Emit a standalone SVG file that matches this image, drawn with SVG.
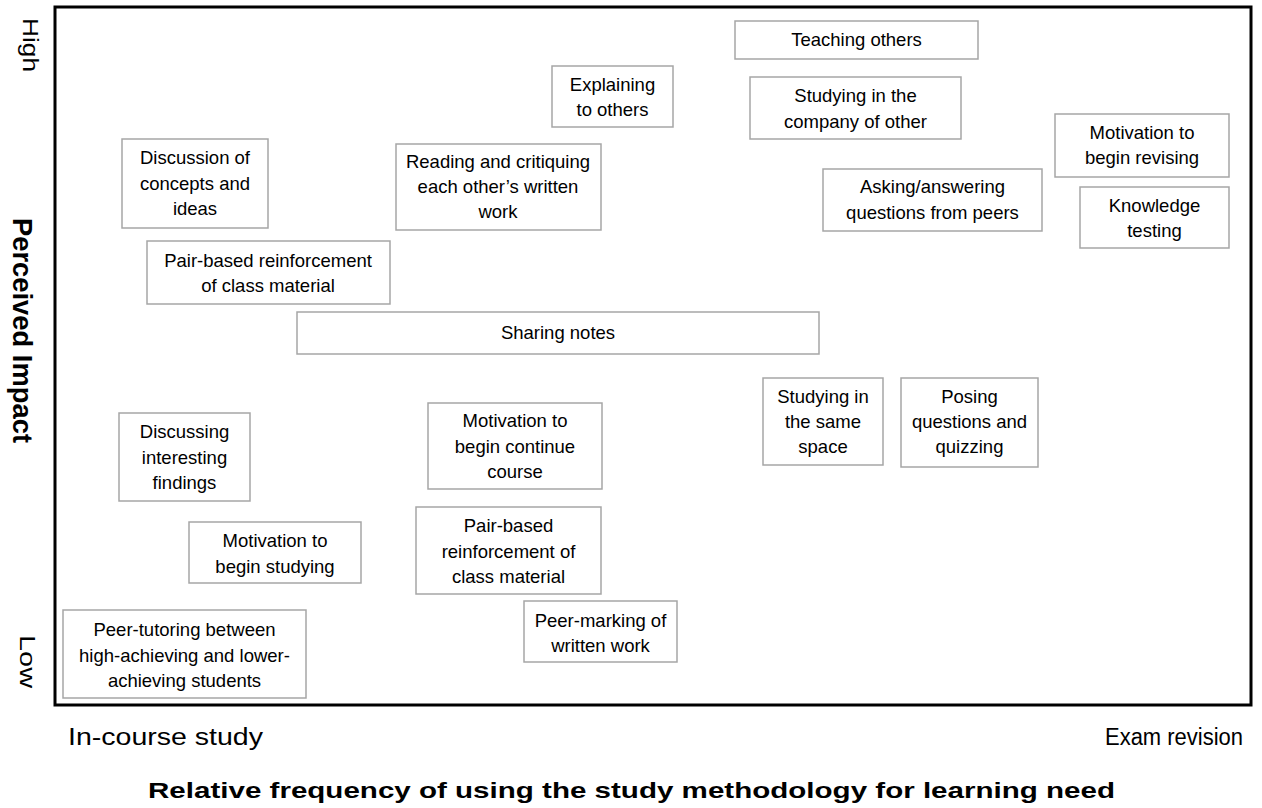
<svg xmlns="http://www.w3.org/2000/svg" width="1262" height="808" viewBox="0 0 1262 808">
  <style>
    .frame { fill: none; stroke: #000; stroke-width: 3; }
    .box { fill: #fff; stroke: #a6a6a6; stroke-width: 1.5; }
    .lbl { font-family: "Liberation Sans", Arial, sans-serif; font-size: 18.5px; fill: #000; text-anchor: middle; }
    .axis { font-family: "Liberation Sans", Arial, sans-serif; font-size: 22px; fill: #000; }
    .axisb { font-family: "Liberation Sans", Arial, sans-serif; font-size: 22px; font-weight: bold; fill: #000; }
  </style>

  <!-- plot area -->
  <rect class="frame" x="55" y="7" width="1196" height="698"/>

  <!-- vertical axis labels -->
  <g id="axis-y">
    <text class="axis" transform="translate(23,18) rotate(90)" textLength="54" lengthAdjust="spacingAndGlyphs">High</text>
    <text class="axis" transform="translate(20,635) rotate(90)" textLength="53" lengthAdjust="spacingAndGlyphs">Low</text>
    <text class="axisb" style="font-size:27px" transform="translate(13,218) rotate(90)" textLength="225" lengthAdjust="spacingAndGlyphs">Perceived Impact</text>
  </g>

  <!-- horizontal axis labels -->
  <g id="axis-x">
    <text class="axis" style="font-size:23px" x="68" y="745" textLength="195" lengthAdjust="spacingAndGlyphs">In-course study</text>
    <text class="axis" style="font-size:23px" x="1105" y="745" textLength="138" lengthAdjust="spacingAndGlyphs">Exam revision</text>
    <text class="axisb" x="148" y="798" textLength="967" lengthAdjust="spacingAndGlyphs">Relative frequency of using the study methodology for learning need</text>
  </g>

  <!-- nodes -->
  <g id="node-discussion-concepts">
    <rect class="box" x="122" y="139" width="146" height="89"/>
    <text class="lbl" x="195" y="164">Discussion of</text>
    <text class="lbl" x="195" y="190">concepts and</text>
    <text class="lbl" x="195" y="215">ideas</text>
  </g>

  <g id="node-pair-based-top">
    <rect class="box" x="147" y="241" width="243" height="63"/>
    <text class="lbl" x="268" y="267">Pair-based reinforcement</text>
    <text class="lbl" x="268" y="292">of class material</text>
  </g>

  <g id="node-sharing-notes">
    <rect class="box" x="297" y="312" width="522" height="42"/>
    <text class="lbl" x="558" y="339">Sharing notes</text>
  </g>

  <g id="node-reading-critiquing">
    <rect class="box" x="396" y="144" width="205" height="86"/>
    <text class="lbl" x="498" y="168">Reading and critiquing</text>
    <text class="lbl" x="498" y="193">each other’s written</text>
    <text class="lbl" x="498" y="218">work</text>
  </g>

  <g id="node-explaining">
    <rect class="box" x="552" y="66" width="121" height="61"/>
    <text class="lbl" x="612.5" y="91">Explaining</text>
    <text class="lbl" x="612.5" y="116">to others</text>
  </g>

  <g id="node-teaching">
    <rect class="box" x="735" y="21" width="243" height="38"/>
    <text class="lbl" x="856.5" y="46">Teaching others</text>
  </g>

  <g id="node-company">
    <rect class="box" x="750" y="77" width="211" height="62"/>
    <text class="lbl" x="855.5" y="102">Studying in the</text>
    <text class="lbl" x="855.5" y="128">company of other</text>
  </g>

  <g id="node-asking">
    <rect class="box" x="823" y="169" width="219" height="62"/>
    <text class="lbl" x="932.5" y="193">Asking/answering</text>
    <text class="lbl" x="932.5" y="219">questions from peers</text>
  </g>

  <g id="node-motivation-revising">
    <rect class="box" x="1055" y="114" width="174" height="63"/>
    <text class="lbl" x="1142" y="139">Motivation to</text>
    <text class="lbl" x="1142" y="164">begin revising</text>
  </g>

  <g id="node-knowledge">
    <rect class="box" x="1080" y="187" width="149" height="61"/>
    <text class="lbl" x="1154.5" y="212">Knowledge</text>
    <text class="lbl" x="1154.5" y="237">testing</text>
  </g>

  <g id="node-discussing-findings">
    <rect class="box" x="119" y="413" width="131" height="88"/>
    <text class="lbl" x="184.5" y="438">Discussing</text>
    <text class="lbl" x="184.5" y="464">interesting</text>
    <text class="lbl" x="184.5" y="489">findings</text>
  </g>

  <g id="node-motivation-studying">
    <rect class="box" x="189" y="522" width="172" height="61"/>
    <text class="lbl" x="275" y="547">Motivation to</text>
    <text class="lbl" x="275" y="573">begin studying</text>
  </g>

  <g id="node-peer-tutoring">
    <rect class="box" x="63" y="610" width="243" height="88"/>
    <text class="lbl" x="184.5" y="636">Peer-tutoring between</text>
    <text class="lbl" x="184.5" y="662">high-achieving and lower-</text>
    <text class="lbl" x="184.5" y="687">achieving students</text>
  </g>

  <g id="node-motivation-course">
    <rect class="box" x="428" y="403" width="174" height="86"/>
    <text class="lbl" x="515" y="427">Motivation to</text>
    <text class="lbl" x="515" y="453">begin continue</text>
    <text class="lbl" x="515" y="478">course</text>
  </g>

  <g id="node-pair-based-mid">
    <rect class="box" x="416" y="507" width="185" height="87"/>
    <text class="lbl" x="508.5" y="532">Pair-based</text>
    <text class="lbl" x="508.5" y="558">reinforcement of</text>
    <text class="lbl" x="508.5" y="583">class material</text>
  </g>

  <g id="node-peer-marking">
    <rect class="box" x="524" y="601" width="153" height="61"/>
    <text class="lbl" x="600.5" y="627">Peer-marking of</text>
    <text class="lbl" x="600.5" y="652">written work</text>
  </g>

  <g id="node-same-space">
    <rect class="box" x="763" y="378" width="120" height="87"/>
    <text class="lbl" x="823" y="403">Studying in</text>
    <text class="lbl" x="823" y="428">the same</text>
    <text class="lbl" x="823" y="453">space</text>
  </g>

  <g id="node-posing">
    <rect class="box" x="901" y="378" width="137" height="89"/>
    <text class="lbl" x="969.5" y="403">Posing</text>
    <text class="lbl" x="969.5" y="428">questions and</text>
    <text class="lbl" x="969.5" y="453">quizzing</text>
  </g>

  <!-- no connectors in this chart -->
  <g id="connectors"/>
</svg>
